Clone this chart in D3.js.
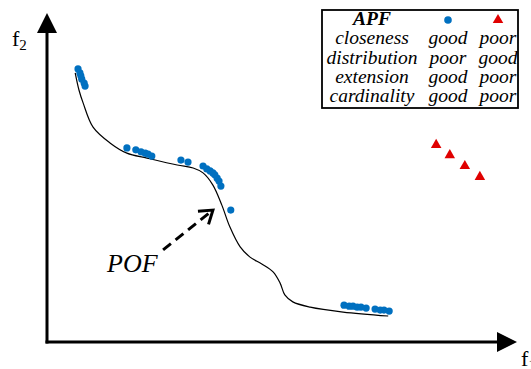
<!DOCTYPE html>
<html>
<head>
<meta charset="utf-8">
<script src="https://cdn.jsdelivr.net/npm/d3@7"></script>
<style>
  body { margin: 0; background: #fff; }
  svg { display: block; }
  text { font-family: "Liberation Serif", "Times New Roman", serif; }
</style>
</head>
<body>
<div id="chart"></div>
<script>
// f1 / f2 in arbitrary objective units, 0..100
var apfBlue = [
    [6.6, 83.0], [7.0, 81.8], [7.2, 80.9], [7.4, 79.9], [7.9, 78.7], [8.1, 77.8],
    [17.0, 59.0], [18.9, 58.4], [20.0, 57.8], [20.9, 57.4], [21.5, 57.1], [22.3, 56.5],
    [28.5, 55.3], [30.0, 54.7],
    [33.2, 53.5], [34.0, 52.6], [34.7, 52.0], [35.3, 51.4], [35.7, 50.8], [36.2, 49.8], [36.6, 48.9], [37.0, 47.4],
    [39.1, 40.1],
    [63.2, 11.2], [64.3, 10.9], [65.1, 10.9], [66.0, 10.6], [66.8, 10.6], [67.9, 10.3],
    [69.8, 10.0], [70.9, 9.7], [71.7, 9.7], [72.8, 9.4]
];
var apfRed = [[82.8, 59.9], [85.7, 56.8], [88.9, 53.5], [92.1, 50.2]];
var pof = [
    [6.0, 81.8], [6.8, 76.6], [7.7, 72.6], [9.8, 65.3], [13.4, 60.5], [17.0, 57.4],
    [21.3, 55.9], [27.7, 53.8], [31.1, 52.9], [33.2, 51.4], [35.3, 47.7], [37.2, 41.6],
    [38.9, 35.0], [41.1, 28.9], [43.2, 25.8], [45.7, 23.7], [48.1, 21.3], [49.6, 17.9],
    [50.6, 14.3], [52.3, 12.2], [56.0, 10.6], [63.0, 9.1], [72.6, 7.9]
];
var pofArrow = [[24.7, 28.0], [35.3, 40.1]];
var legendHead = ["APF"];
var legendRows = [
    ["closeness", "good", "poor"],
    ["distribution", "poor", "good"],
    ["extension", "good", "poor"],
    ["cardinality", "good", "poor"]
];

var width = 531, height = 369;
var blue = "#0070c0", red = "#e00000";

var x = d3.scaleLinear().domain([0, 100]).range([47, 517]);
var y = d3.scaleLinear().domain([0, 100]).range([342, 13]);

var svg = d3.select("#chart").append("svg")
    .attr("width", width)
    .attr("height", height);

// axes with arrows
var head = 20;
svg.append("line")
    .attr("x1", x(0) - 1.5).attr("x2", x(100) - head)
    .attr("y1", y(0)).attr("y2", y(0))
    .style("stroke", "#000").style("stroke-width", 3);
svg.append("path")
    .attr("d", `M${x(100)},${y(0)} L${x(100) - head},${y(0) - 10} L${x(100) - head},${y(0) + 10} Z`)
    .style("fill", "#000");
svg.append("line")
    .attr("x1", x(0)).attr("x2", x(0))
    .attr("y1", y(0) + 1.5).attr("y2", y(100) + head)
    .style("stroke", "#000").style("stroke-width", 3);
svg.append("path")
    .attr("d", `M${x(0)},${y(100)} L${x(0) - 10},${y(100) + head} L${x(0) + 10},${y(100) + head} Z`)
    .style("fill", "#000");

// axis labels
var f2 = svg.append("text").attr("x", 12).attr("y", 46).style("font-size", "22px");
f2.append("tspan").text("f");
f2.append("tspan").attr("dy", 4).style("font-size", "15px").text("2");
var f1 = svg.append("text").attr("x", 521).attr("y", 366).style("font-size", "22px");
f1.append("tspan").text("f");
f1.append("tspan").attr("dy", 4).style("font-size", "15px").text("1");

// POF curve
var line = d3.line()
    .x(d => x(d[0]))
    .y(d => y(d[1]))
    .curve(d3.curveCatmullRom);
svg.append("path")
    .attr("d", line(pof))
    .style("fill", "none")
    .style("stroke", "#000")
    .style("stroke-width", 1.2);

// blue APF
svg.append("g").selectAll("circle")
    .data(apfBlue).enter()
    .append("circle")
    .attr("cx", d => x(d[0]))
    .attr("cy", d => y(d[1]))
    .attr("r", 3.6)
    .style("fill", blue);

// red APF
var tri = d3.symbol().type(d3.symbolTriangle).size(48);
svg.append("g").selectAll("path")
    .data(apfRed).enter()
    .append("path")
    .attr("d", tri)
    .attr("transform", d => `translate(${x(d[0])},${y(d[1])})`)
    .style("fill", red);

// dashed arrow to POF
var a0 = [x(pofArrow[0][0]), y(pofArrow[0][1])];
var a1 = [x(pofArrow[1][0]), y(pofArrow[1][1])];
svg.append("line")
    .attr("x1", a0[0]).attr("y1", a0[1])
    .attr("x2", a1[0] - 3).attr("y2", a1[1] + 2.4)
    .style("stroke", "#000").style("stroke-width", 3)
    .style("stroke-dasharray", "10,6");
var ang = Math.atan2(a1[1] - a0[1], a1[0] - a0[0]);
var armLen = 15, spread = 0.6;
var pA = [a1[0] - armLen * Math.cos(ang - spread), a1[1] - armLen * Math.sin(ang - spread)];
var pB = [a1[0] - armLen * Math.cos(ang + spread), a1[1] - armLen * Math.sin(ang + spread)];
svg.append("path")
    .attr("d", `M${pA[0]},${pA[1]} L${a1[0]},${a1[1]} L${pB[0]},${pB[1]}`)
    .style("fill", "none").style("stroke", "#000").style("stroke-width", 3)
    .style("stroke-linejoin", "miter");

svg.append("text")
    .attr("x", 107).attr("y", 272)
    .style("font-size", "26px")
    .style("font-style", "italic")
    .text("POF");

// legend table
var lg = svg.append("g");
lg.append("rect")
    .attr("x", 322).attr("y", 10)
    .attr("width", 196).attr("height", 98)
    .style("fill", "#fff").style("stroke", "#000").style("stroke-width", 1.8);
var colX = [372, 448, 498];
var rowY = d => 25 + d * 19.3;
lg.append("text")
    .attr("x", colX[0]).attr("y", rowY(0))
    .attr("text-anchor", "middle")
    .style("font-size", "19.5px").style("font-style", "italic").style("font-weight", "bold")
    .text(legendHead[0]);
lg.append("circle")
    .attr("cx", colX[1]).attr("cy", rowY(0) - 5).attr("r", 3.8)
    .style("fill", blue);
lg.append("path")
    .attr("d", tri)
    .attr("transform", `translate(${colX[2]},${rowY(0) - 5})`)
    .style("fill", red);
legendRows.forEach((row, i) => {
    row.forEach((t, j) => {
        lg.append("text")
            .attr("x", colX[j]).attr("y", rowY(i + 1))
            .attr("text-anchor", "middle")
            .style("font-size", "19.5px").style("font-style", "italic")
            .text(t);
    });
});
</script>
</body>
</html>
